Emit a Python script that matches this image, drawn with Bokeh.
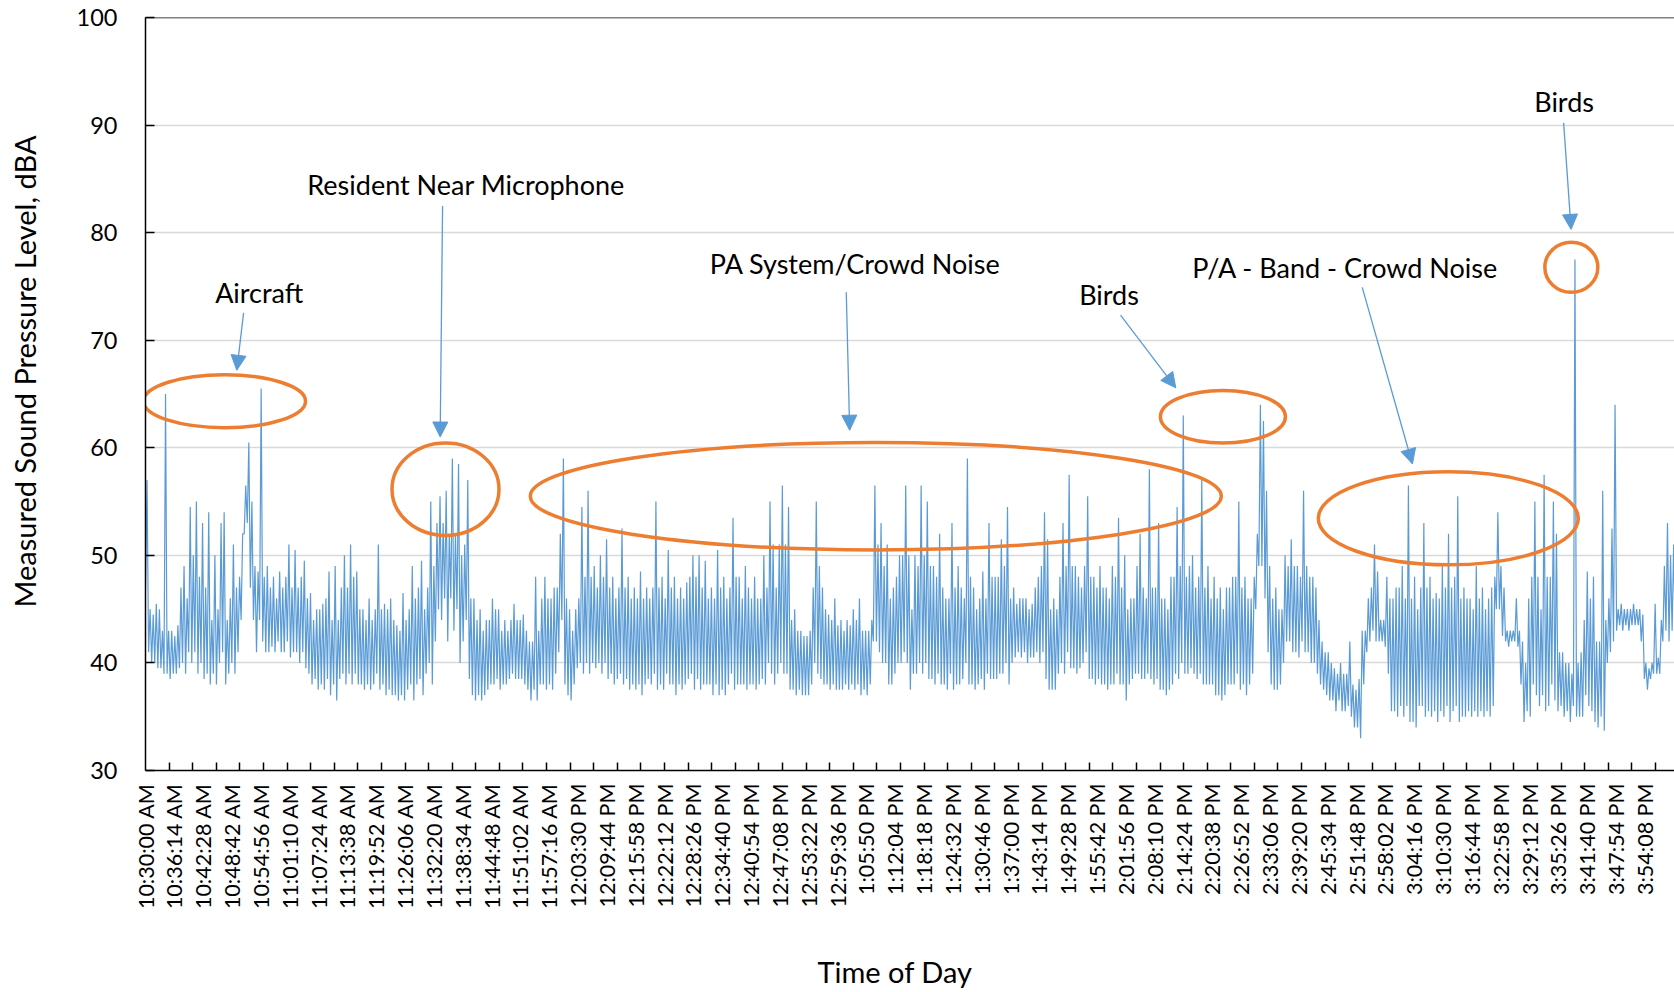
import math
import numpy as np
from bokeh.plotting import figure
from bokeh.models import Range1d, FixedTicker, Label, Arrow, NormalHead, Span, Title, LinearAxis
from bokeh.embed import file_html
from bokeh.resources import INLINE

# ---------------- data ----------------
# Each 40-second interval from 10:30:00 AM: lowest and highest level seen in it (dBA).
BIN_S = 40

low_1030 = [47, 41, 40, 40, 39.5, 39.5, 39, 39, 38.5, 39, 39, 39.5, 40, 39, 41, 40, 41, 39, 40, 38.5,
            39, 38, 39, 38, 40, 41, 38, 39, 40, 39, 41, 44, 52, 53, 47, 44, 41, 44, 42, 41,
            41, 41.5, 41, 42, 41, 41, 42, 40.5, 41, 41, 40, 41, 39.5, 39, 38, 38.5, 37.5, 38, 37.5, 38.5,
            37, 38, 36.5]
high_1030 = [57, 45, 44.5, 45.5, 45, 43, 65, 43, 43, 42.5, 43.5, 47, 49, 46, 54.5, 50, 55, 48, 53, 47,
             54, 44, 50, 45, 53, 54, 44, 46, 51, 47, 48, 52, 56.5, 60.5, 55, 49, 48.5, 65.5, 48, 49,
             47, 48, 46, 48.5, 47, 48, 51, 47, 50.5, 47, 48, 49.5, 46, 46.5, 44, 45, 45, 45.5, 46, 48.5,
             44, 49, 44]

low_1112 = [38.5, 39, 38, 39, 38, 39, 38, 38, 37.5, 38, 37.5, 38, 39, 37.5, 38, 37, 37.5, 37, 37, 36.5,
            37, 36.5, 37.5, 38, 36.5, 38, 38.5, 37, 39, 40, 38, 42, 45, 44, 46, 42, 46, 43, 45, 40,
            42, 44, 38.5, 37, 36.5, 37, 36.5, 37, 37.5, 38, 38, 38.5, 37.5, 38, 38, 38.5, 39, 38.5, 38.5, 38.5,
            38, 37.5, 36.5, 37.5, 36.5]
high_1112 = [47, 50, 47, 51, 48, 48.5, 45, 45, 44, 46, 44, 45, 51, 45, 45.5, 45, 46, 44, 43.5, 43,
             46.5, 44, 45, 49, 46, 47, 49.5, 45, 47, 55, 49, 53, 55.5, 53, 56, 52, 59, 52, 58.5, 50,
             51, 57, 46, 46, 44, 45, 43, 44, 44, 46, 45, 45, 43, 44, 43, 44, 45.5, 44, 44, 44.5,
             43, 42, 42, 48, 43]

low_1155 = [38, 38, 37.5, 38, 37.5, 39, 41, 44, 38, 37, 36.5, 38, 39.5, 40, 39, 40, 39, 40, 39.5, 40,
            39, 40, 38.5, 39, 38, 38.5, 39, 38, 38.5, 37.5, 38, 37.5, 38, 37, 38, 38.5, 38, 39, 37.5, 38,
            37.5, 39, 38, 38, 37, 38, 37.5, 38, 38.5, 39, 37.5, 38.5, 37.5, 38, 38, 38, 37, 38, 37, 37.5,
            37, 38, 39, 37.5, 38]
high_1155 = [46, 48, 46, 46, 47, 47, 52, 59, 46, 45, 43, 45, 46, 54.5, 48, 56, 48, 49, 47, 50,
             48, 51.5, 47, 48, 46, 47, 52.5, 47, 48, 46, 47, 46, 48.5, 46, 47, 46, 47, 55, 47, 48,
             46, 50.5, 47, 48, 46, 47, 46, 47.5, 48, 50, 48, 50, 47, 49.5, 46, 47, 46, 50.5, 47, 48,
             46, 47, 53.5, 48, 48]

low_1238 = [38, 38, 37.5, 38, 38, 37.5, 38, 38.5, 38, 40, 39, 38, 39, 40, 39, 39, 37.5, 37.5, 37, 37.5,
            37, 37, 37, 38, 40, 39, 38.5, 38, 38, 37.5, 38, 37.5, 37.5, 37.5, 38, 37.5, 38, 37.5, 38, 37,
            37.5, 37, 38, 42, 42, 41, 40, 40, 38, 38, 39, 40, 40, 41, 40, 37.5, 39, 39, 40, 39,
            40, 38.5, 38.5, 38, 39]
high_1238 = [46, 49, 47, 46, 48, 46, 46, 50, 47, 55, 51, 47, 51, 56.5, 51, 54.5, 44, 45, 43, 43,
             42.5, 42.5, 43, 47, 55, 49, 47, 45, 44.5, 44, 46, 43.5, 44, 43, 44, 43.5, 45, 44, 46, 43,
             43, 43, 44, 56.5, 51, 53, 49, 51, 46, 47, 48, 50, 50, 56.5, 50, 45, 50, 49, 56.5, 50,
             55, 49, 49, 48, 52]

low_0122 = [38, 38, 37.5, 39, 37.5, 38, 38, 38.5, 40, 38, 38, 37.5, 38, 38.5, 37.5, 39, 38.5, 38.5, 38.5, 39,
            39, 40, 38, 40, 40.5, 41, 40.5, 41, 40, 40.5, 40.5, 41, 40, 41, 38.5, 37.5, 37.5, 37.5, 39, 40,
            39, 41, 39.5, 39.5, 39, 39.5, 40, 41, 38.5, 38.5, 38, 38.5, 38, 38, 37.5, 38, 38, 39, 38, 38,
            36.5, 38, 38.5, 39, 39]
high_0122 = [47, 46, 46, 53, 47, 49, 47, 46, 59, 48, 47, 45, 46, 48.5, 46, 53, 48, 48, 48, 51.5,
             49, 54.5, 46, 47, 45.5, 46, 46, 46, 45, 45.5, 47, 48, 49, 54, 51.5, 45, 46, 45, 48, 53,
             49, 57.5, 49, 49, 48, 47, 49, 55.5, 48, 48, 47, 49, 47, 47, 46, 49, 48, 53.5, 47, 50,
             45, 46, 46, 49, 52]

low_0205 = [38.5, 38.5, 39, 38.5, 38, 38.5, 37.5, 37.5, 37, 37.5, 38, 39, 38.5, 40, 39, 39, 39.5, 39, 38.5, 39,
            38, 38, 38, 38, 37, 37, 36.5, 37, 38, 38, 38, 39, 37.5, 38, 37, 38, 39, 45, 49, 49,
            46, 41, 38, 37.5, 37.5, 38, 40, 42, 42, 41, 41, 40.5, 42, 41, 41, 40, 40, 39, 38, 37.5,
            37, 36.5, 36.5, 35.5]
high_0205 = [47, 46, 58, 47, 47, 53, 46, 46, 45, 48, 48, 54.5, 49, 63, 48, 49, 50, 47, 48, 57,
             47, 49, 46, 48, 46, 47, 45, 47, 47, 48, 48, 55, 47, 48, 46, 46, 48, 52, 64, 62.5,
             56, 49, 46, 47, 45, 45, 50, 49, 51.5, 49, 49, 48, 56, 49, 48, 48, 47, 44, 42, 41,
             41, 40, 39.5, 39]

low_0248 = [36.5, 35.5, 35.5, 36, 35, 34, 34, 33, 38, 41, 42, 43, 42, 42, 42, 41.5, 39, 35.5, 35.5, 35,
            36, 35, 36, 34.5, 34.5, 34, 36, 36, 35, 35.5, 35, 35.5, 34.5, 35.5, 35, 36, 34.5, 35.5, 36, 34.5,
            35, 35, 35.5, 35, 35.5, 35, 35.5, 35, 35.5, 35, 36, 45, 45, 42.5, 42, 41.5, 42, 42, 41.5, 38,
            34.5, 35.5, 35, 38, 37]
high_0248 = [40, 39, 39, 42, 38, 37.5, 38.5, 43, 43, 46, 47, 51, 48.5, 44, 44, 48, 46, 46, 47, 47,
             49, 46, 56.5, 46, 48, 45, 47, 53, 47, 48, 46, 46.5, 46, 49, 47, 52, 47, 48, 55.5, 46,
             47, 46, 46, 45, 49, 46, 47, 45, 46, 47, 48, 54, 49, 47, 43, 43, 43, 46, 43, 42,
             40, 46, 48, 55, 48]

low_0331 = [36, 37, 35.5, 36, 38, 36.5, 35.5, 36, 35, 35.5, 34.5, 36, 35, 35, 35, 37, 36, 35.5, 34.5, 34,
            35, 33.7, 40, 41, 42, 43, 43.5, 43, 43.5, 43, 43.5, 43.5, 43.5, 42, 38.5, 37.5, 38.5, 39, 39, 39,
            42, 43, 42, 43, 42.5, 41, 40, 40]
high_0331 = [45, 57.5, 48, 48, 55, 52, 41, 41, 40, 40, 39, 77.5, 40, 41, 44, 48.5, 46, 48, 42, 42,
             56, 44, 46, 52.5, 64, 45, 45.5, 45, 45, 45, 45.5, 45, 45, 44.5, 40, 39.5, 40, 45.5, 40.5, 44,
             49, 53, 50, 51, 54.5, 47, 49, 46]

LABEL_STEP_S = 374
TICK_STEP_S = 306
tick_labels = [
    "10:30:00 AM", "10:36:14 AM", "10:42:28 AM", "10:48:42 AM", "10:54:56 AM", "11:01:10 AM",
    "11:07:24 AM", "11:13:38 AM", "11:19:52 AM", "11:26:06 AM", "11:32:20 AM", "11:38:34 AM",
    "11:44:48 AM", "11:51:02 AM", "11:57:16 AM", "12:03:30 PM", "12:09:44 PM", "12:15:58 PM",
    "12:22:12 PM", "12:28:26 PM", "12:34:40 PM", "12:40:54 PM", "12:47:08 PM", "12:53:22 PM",
    "12:59:36 PM", "1:05:50 PM", "1:12:04 PM", "1:18:18 PM", "1:24:32 PM", "1:30:46 PM",
    "1:37:00 PM", "1:43:14 PM", "1:49:28 PM", "1:55:42 PM", "2:01:56 PM", "2:08:10 PM",
    "2:14:24 PM", "2:20:38 PM", "2:26:52 PM", "2:33:06 PM", "2:39:20 PM", "2:45:34 PM",
    "2:51:48 PM", "2:58:02 PM", "3:04:16 PM", "3:10:30 PM", "3:16:44 PM", "3:22:58 PM",
    "3:29:12 PM", "3:35:26 PM", "3:41:40 PM", "3:47:54 PM", "3:54:08 PM",
]

low = np.array(low_1030 + low_1112 + low_1155 + low_1238 + low_0122 + low_0205 + low_0248 + low_0331)
high = np.array(high_1030 + high_1112 + high_1155 + high_1238 + high_0122 + high_0205 + high_0248 + high_0331)
bin_start = np.arange(len(low)) * BIN_S
# trace: low then high inside every interval
t_s = np.column_stack([bin_start, bin_start + BIN_S / 2]).ravel()
spl = np.column_stack([low, high]).ravel()

# ---------------- annotations (time s, dBA) ----------------
annot_texts = ["Aircraft", "Resident Near Microphone", "PA System/Crowd Noise", "Birds",
               "P/A - Band - Crowd Noise", "Birds"]
annot_x = [1475, 4158, 9205, 12497, 15561, 18399]
annot_y = [74.42, 84.47, 77.09, 74.26, 76.78, 92.22]

ell_x = [1025, 3891, 9472, 13974, 16897, 18493]
ell_y = [64.33, 56.15, 55.5, 62.88, 53.44, 76.78]
ell_w = [162, 107, 691, 125, 260, 53]
ell_h = [53, 92.5, 107.5, 52.6, 93, 50]

arr_x0 = [1272, 3853, 9089, 12646, 15781, 18393]
arr_y0 = [72.54, 82.48, 74.45, 72.33, 74.91, 90.2]
arr_x1 = [1184, 3822, 9133, 13363, 16432, 18490]
arr_y1 = [67.2, 61.0, 61.63, 65.57, 58.49, 80.3]

BLUE = "#5B9BD5"
ORANGE = "#ED7D31"
FONT = "Lato"

p = figure(width=1674, height=992, x_range=Range1d(0, 19831), y_range=Range1d(30, 100),
           output_backend="svg", toolbar_location=None,
           min_border_left=145, min_border_right=0, min_border_top=17, min_border_bottom=222)
p.outline_line_color = None
p.background_fill_color = "white"
p.border_fill_color = "white"

p.line(t_s, spl, line_color=BLUE, line_width=1.2)

# grid
p.xgrid.visible = False
p.ygrid.ticker = FixedTicker(ticks=[40, 50, 60, 70, 80, 90])
p.ygrid.grid_line_color = "#D9D9D9"
p.ygrid.grid_line_width = 1.4
p.add_layout(Span(location=100, dimension="width", line_color="black", line_width=1.5))

# y axis
yax = p.yaxis[0]
yax.ticker = FixedTicker(ticks=[30, 40, 50, 60, 70, 80, 90, 100])
yax.axis_line_color = "black"
yax.axis_line_width = 1.5
yax.major_tick_in = 9
yax.major_tick_out = 0
yax.major_tick_line_width = 1.5
yax.minor_tick_line_color = None
yax.major_label_standoff = 28
yax.major_label_text_font = FONT
yax.major_label_text_color = "black"
yax.major_label_text_font_size = "23.5px"

# x axis
xax = p.xaxis[0]
xax.ticker = FixedTicker(ticks=[i * LABEL_STEP_S for i in range(len(tick_labels))],
                         minor_ticks=[k * TICK_STEP_S for k in range(1, 65)])
xax.major_label_overrides = {i * LABEL_STEP_S: lbl for i, lbl in enumerate(tick_labels)}
xax.axis_line_color = "black"
xax.axis_line_width = 1.5
xax.major_tick_line_color = None
xax.major_tick_in = 0
xax.major_tick_out = 0
xax.minor_tick_line_color = "black"
xax.minor_tick_line_width = 1.5
xax.minor_tick_in = 8
xax.minor_tick_out = 0
xax.major_label_orientation = math.pi / 2
xax.major_label_standoff = 13
xax.major_label_text_font = FONT
xax.major_label_text_color = "black"
xax.major_label_text_font_size = "21.5px"


def spacer_axis(size, at):
    """An invisible axis (one hidden tick, empty label) that only reserves `size` pixels."""
    return LinearAxis(ticker=FixedTicker(ticks=[at]), major_label_overrides={at: ""},
                      axis_line_color=None, major_tick_line_color=None, minor_tick_line_color=None,
                      major_tick_in=0, major_tick_out=size, minor_tick_in=0, minor_tick_out=0,
                      major_label_standoff=0, major_label_text_font_size="1px",
                      major_label_text_alpha=0)


# axis titles (side panels, placed with an offset from the frame corner)
p.add_layout(spacer_axis(32, 65), "left")
p.add_layout(Title(text="Measured Sound Pressure Level, dBA", align="left", offset=163, standoff=0,
                   text_font=FONT, text_font_size="29px", text_font_style="normal",
                   text_color="black"), "left")
p.add_layout(spacer_axis(39, 9000), "below")
p.add_layout(Title(text="Time of Day", align="left", offset=672, standoff=0,
                   text_font=FONT, text_font_size="29px", text_font_style="normal",
                   text_color="black"), "below")

# ellipses
p.ellipse(x=ell_x, y=ell_y, width=ell_w, height=ell_h, width_units="screen", height_units="screen",
          fill_color=None, line_color=ORANGE, line_width=3.5)

# arrows
for x0, y0, x1, y1 in zip(arr_x0, arr_y0, arr_x1, arr_y1):
    p.add_layout(Arrow(end=NormalHead(size=15, fill_color=BLUE, line_color=BLUE, line_width=1),
                       x_start=x0, y_start=y0, x_end=x1, y_end=y1,
                       line_color=BLUE, line_width=1.3))

# texts
for txt, x, y in zip(annot_texts, annot_x, annot_y):
    p.add_layout(Label(x=x, y=y, text=txt, text_align="center", text_baseline="alphabetic",
                       text_font=FONT, text_font_size="27px", text_color="black"))

open("out.html", "w").write(file_html(p, INLINE))
